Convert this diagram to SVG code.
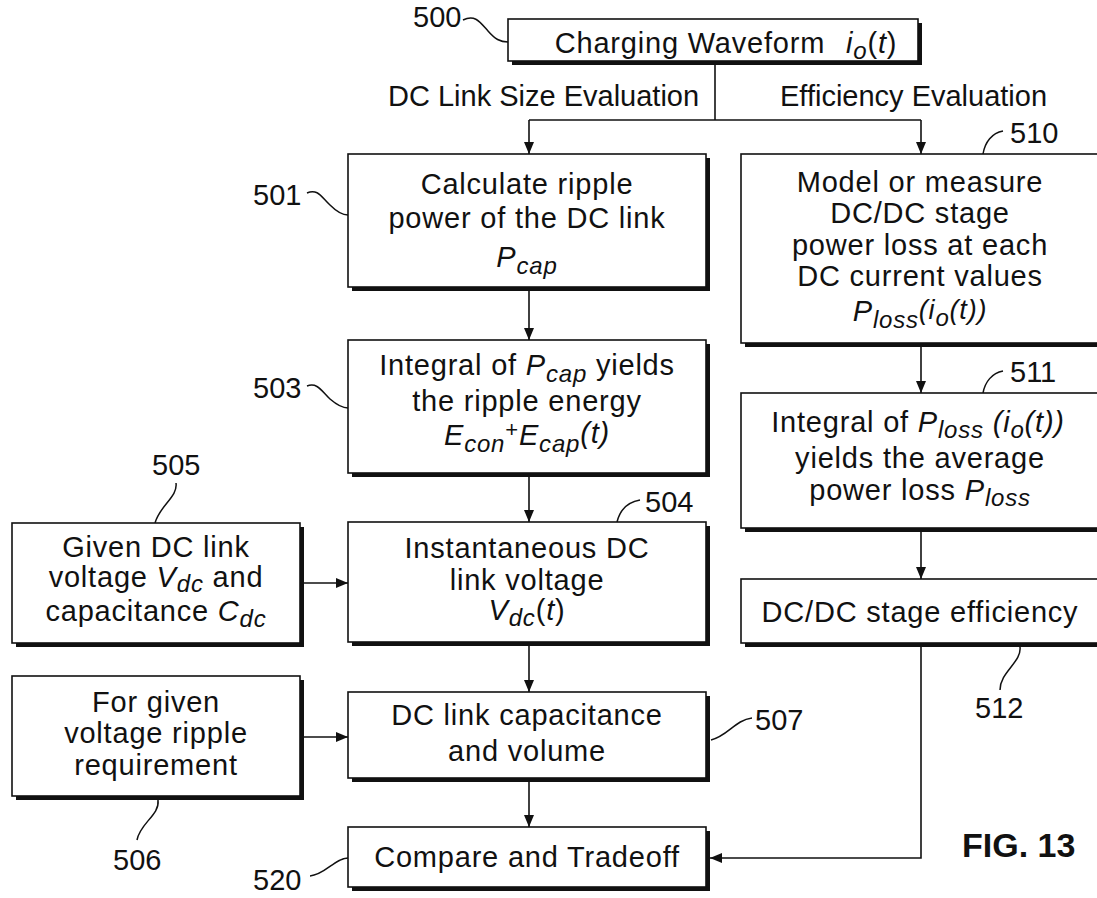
<svg xmlns="http://www.w3.org/2000/svg" width="1097" height="898" viewBox="0 0 1097 898">
  <style>
    text { font-family: "Liberation Sans", Arial, Helvetica, sans-serif; fill: #111; }
    .t { font-size: 29px; letter-spacing: 0.8px; text-anchor: middle; }
    .hd { font-size: 29px; }
    .num { font-size: 29px; }
    .fig { font-size: 34px; font-weight: bold; }
    .it { font-style: italic; }
    .sub { font-style: italic; font-size: 24px; }
    .box { fill: #fff; stroke: #111; stroke-width: 1.6; }
    .shadow { fill: #111; }
    .wire { fill: none; stroke: #111; stroke-width: 1.6; }
    .lead { fill: none; stroke: #111; stroke-width: 1.5; }
  </style>
  <defs>
    <marker id="arrow" viewBox="0 0 12 10" refX="12" refY="5" markerWidth="12" markerHeight="10" markerUnits="userSpaceOnUse" orient="auto">
      <path d="M0,0 L12,5 L0,10 Z" fill="#111"/>
    </marker>
  </defs>
  <rect width="1097" height="898" fill="#fff"/>

  <!-- section headings -->
  <text class="hd" x="388" y="106">DC Link Size Evaluation</text>
  <text class="hd" x="780" y="106">Efficiency Evaluation</text>

  <!-- connectors -->
  <g id="connectors">
    <path class="wire" d="M715,63 V120"/>
    <path class="wire" d="M529,120 H921"/>
    <path class="wire" d="M529,120 V154" marker-end="url(#arrow)"/>
    <path class="wire" d="M921,120 V154" marker-end="url(#arrow)"/>
    <path class="wire" d="M529,291 V340" marker-end="url(#arrow)"/>
    <path class="wire" d="M529,477 V522" marker-end="url(#arrow)"/>
    <path class="wire" d="M529,646 V692" marker-end="url(#arrow)"/>
    <path class="wire" d="M529,782 V827" marker-end="url(#arrow)"/>
    <path class="wire" d="M304,583 H348" marker-end="url(#arrow)"/>
    <path class="wire" d="M304,737 H348" marker-end="url(#arrow)"/>
    <path class="wire" d="M921,347 V393" marker-end="url(#arrow)"/>
    <path class="wire" d="M921,532 V579" marker-end="url(#arrow)"/>
    <path class="wire" d="M921,647 V858 H710" marker-end="url(#arrow)"/>
  </g>

  <!-- reference numeral leaders -->
  <g id="leaders">
    <path class="lead" d="M463,20 C475,14 480,22 488,31 C495,39 500,42 508,42"/>
    <path class="lead" d="M307,193 C318,188 322,198 330,205 C337,212 342,215 348,215"/>
    <path class="lead" d="M307,386 C318,382 322,392 330,399 C337,405 342,408 348,408"/>
    <path class="lead" d="M640,500 C628,502 620,510 617,522"/>
    <path class="lead" d="M176,483 C178,497 160,505 155,523"/>
    <path class="lead" d="M158,800 C160,815 140,823 137,840"/>
    <path class="lead" d="M711,740 C728,736 735,720 752,718"/>
    <path class="lead" d="M1003,131 C992,133 985,142 983,154"/>
    <path class="lead" d="M1003,371 C992,373 985,382 983,393"/>
    <path class="lead" d="M1020,647 C1022,662 1000,672 1000,690"/>
    <path class="lead" d="M310,876 C325,875 335,858 348,858"/>
  </g>

  <!-- 500 -->
  <g id="n500">
    <rect class="shadow" x="512" y="23" width="410" height="42"/>
    <rect class="box" x="508" y="19" width="410" height="42"/>
    <text class="t" x="726" y="53">Charging Waveform <tspan class="it" dx="12">i</tspan><tspan class="sub" dy="6">o</tspan><tspan dy="-6">(</tspan><tspan class="it">t</tspan>)</text>
    <text class="num" x="413" y="27">500</text>
  </g>

  <!-- 501 -->
  <g id="n501">
    <rect class="shadow" x="352" y="158" width="358" height="133"/>
    <rect class="box" x="348" y="154" width="358" height="133"/>
    <text class="t" x="527" y="194">Calculate ripple</text>
    <text class="t" x="527" y="228">power of the DC link</text>
    <text class="t" x="527" y="267"><tspan class="it">P</tspan><tspan class="sub" dy="7">cap</tspan></text>
    <text class="num" x="253" y="205">501</text>
  </g>

  <!-- 503 -->
  <g id="n503">
    <rect class="shadow" x="352" y="344" width="358" height="133"/>
    <rect class="box" x="348" y="340" width="358" height="133"/>
    <text class="t" x="527" y="375">Integral of <tspan class="it">P</tspan><tspan class="sub" dy="7">cap</tspan><tspan dy="-7"> yields</tspan></text>
    <text class="t" x="527" y="411">the ripple energy</text>
    <text class="t" x="527" y="445"><tspan class="it">E</tspan><tspan class="sub" dy="7">con</tspan><tspan font-size="22" dy="-15">+</tspan><tspan class="it" dy="8">E</tspan><tspan class="sub" dy="7">cap</tspan><tspan class="it" dy="-9">(t)</tspan></text>
    <text class="num" x="253" y="398">503</text>
  </g>

  <!-- 504 -->
  <g id="n504">
    <rect class="shadow" x="352" y="526" width="358" height="120"/>
    <rect class="box" x="348" y="522" width="358" height="120"/>
    <text class="t" x="527" y="558">Instantaneous DC</text>
    <text class="t" x="527" y="590">link voltage</text>
    <text class="t" x="527" y="620"><tspan class="it">V</tspan><tspan class="sub" dy="6">dc</tspan><tspan dy="-6">(</tspan><tspan class="it">t</tspan>)</text>
    <text class="num" x="645" y="512">504</text>
  </g>

  <!-- 505 -->
  <g id="n505">
    <rect class="shadow" x="16" y="527" width="288" height="120"/>
    <rect class="box" x="12" y="523" width="288" height="120"/>
    <text class="t" x="156" y="557">Given DC link</text>
    <text class="t" x="156" y="587">voltage <tspan class="it">V</tspan><tspan class="sub" dy="5">dc</tspan><tspan dy="-5"> and</tspan></text>
    <text class="t" x="156" y="621">capacitance <tspan class="it">C</tspan><tspan class="sub" dy="6">dc</tspan></text>
    <text class="num" x="152" y="475">505</text>
  </g>

  <!-- 506 -->
  <g id="n506">
    <rect class="shadow" x="16" y="680" width="288" height="120"/>
    <rect class="box" x="12" y="676" width="288" height="120"/>
    <text class="t" x="156" y="712">For given</text>
    <text class="t" x="156" y="743">voltage ripple</text>
    <text class="t" x="156" y="775">requirement</text>
    <text class="num" x="113" y="870">506</text>
  </g>

  <!-- 507 -->
  <g id="n507">
    <rect class="shadow" x="352" y="696" width="358" height="86"/>
    <rect class="box" x="348" y="692" width="358" height="86"/>
    <text class="t" x="527" y="725">DC link capacitance</text>
    <text class="t" x="527" y="761">and volume</text>
    <text class="num" x="755" y="730">507</text>
  </g>

  <!-- 520 -->
  <g id="n520">
    <rect class="shadow" x="352" y="831" width="358" height="60"/>
    <rect class="box" x="348" y="827" width="358" height="60"/>
    <text class="t" x="527" y="867">Compare and Tradeoff</text>
    <text class="num" x="253" y="890">520</text>
  </g>

  <!-- 510 -->
  <g id="n510">
    <rect class="shadow" x="745" y="158" width="400" height="189"/>
    <rect class="box" x="741" y="154" width="400" height="189"/>
    <text class="t" x="920" y="192">Model or measure</text>
    <text class="t" x="920" y="223">DC/DC stage</text>
    <text class="t" x="920" y="255">power loss at each</text>
    <text class="t" x="920" y="286">DC current values</text>
    <text class="t" x="920" y="321"><tspan class="it">P</tspan><tspan class="sub" dy="7">loss</tspan><tspan class="it" font-size="27" dy="-9">(i</tspan><tspan class="sub" dy="7">o</tspan><tspan class="it" font-size="27" dy="-7">(t))</tspan></text>
    <text class="num" x="1010" y="143">510</text>
  </g>

  <!-- 511 -->
  <g id="n511">
    <rect class="shadow" x="745" y="397" width="400" height="135"/>
    <rect class="box" x="741" y="393" width="400" height="135"/>
    <text class="t" x="918" y="432">Integral of <tspan class="it">P</tspan><tspan class="sub" dy="6">loss</tspan><tspan class="it" dy="-6"> (i</tspan><tspan class="sub" dy="6">o</tspan><tspan class="it" dy="-6">(t))</tspan></text>
    <text class="t" x="920" y="468">yields the average</text>
    <text class="t" x="920" y="500">power loss <tspan class="it">P</tspan><tspan class="sub" dy="6">loss</tspan></text>
    <text class="num" x="1010" y="382">511</text>
  </g>

  <!-- 512 -->
  <g id="n512">
    <rect class="shadow" x="745" y="583" width="400" height="64"/>
    <rect class="box" x="741" y="579" width="400" height="64"/>
    <text class="t" x="920" y="622">DC/DC stage efficiency</text>
    <text class="num" x="975" y="718">512</text>
  </g>

  <text class="fig" x="962" y="857">FIG. 13</text>
</svg>
